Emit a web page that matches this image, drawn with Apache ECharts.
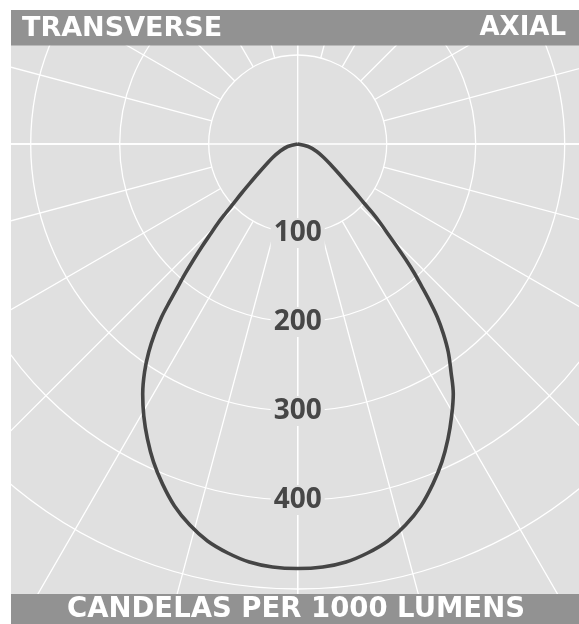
<!DOCTYPE html>
<html>
<head>
<meta charset="utf-8">
<script src="https://cdn.jsdelivr.net/npm/echarts@6/dist/echarts.min.js"></script>
<style>
  html, body { margin: 0; padding: 0; background: #fff; }
  #chart { width: 579px; height: 624px; }
</style>
</head>
<body>
<div id="chart"></div>
<script>
// angle from nadir (deg) and candela values
const transverseAngle = [0, 3.4, 6.6, 9.7, 12.8, 15.8, 18.8, 21.7, 24.4, 27.0, 29.5, 31.8, 33.9, 35.6, 37.0, 38.2, 39.1, 40.0, 41.0, 42.0, 43.0, 44.0, 45.2, 46.2, 47.3, 48.8, 50.6, 53.1, 56.7, 61.6, 67.4, 76.0, 90]
const transverseCd    = [477, 476.1, 472.8, 466.2, 457.4, 445.0, 429.6, 411.0, 392.2, 371.9, 351.2, 330.5, 308.5, 287.5, 267.2, 247.3, 228.0, 209.8, 192.0, 174.6, 158.2, 142.2, 126.7, 112.0, 97.8, 83.6, 69.8, 56.2, 43.0, 31.9, 21.9, 11.6, 0]
const axialAngle      = [0, 3.4, 6.6, 9.7, 12.8, 15.8, 18.8, 21.7, 24.4, 27.0, 29.5, 31.9, 33.9, 35.9, 37.5, 38.9, 40.0, 41.0, 42.1, 43.1, 44.0, 45.0, 46.2, 47.3, 48.3, 49.8, 51.5, 54.1, 57.8, 62.6, 68.5, 76.6, 90]
const axialCd         = [477, 476.1, 472.8, 466.2, 457.4, 445.0, 429.6, 411.0, 392.2, 371.9, 351.2, 330.8, 308.9, 288.5, 268.9, 249.7, 230.9, 213.0, 195.3, 177.7, 160.9, 144.6, 129.1, 114.3, 99.7, 85.3, 71.3, 57.5, 44.2, 32.9, 23.0, 12.1, 0]
const ringLabels = [100, 200, 300, 400]

const center = [297.7, 144]
const pxPer = 0.89   // px per candela
const rMax = 700

// left half is transverse (angle value θ), right half axial (360 - θ)
const curve = []
for (let i = transverseAngle.length - 1; i >= 0; i--) curve.push([transverseCd[i], transverseAngle[i]])
for (let i = 1; i < axialAngle.length; i++) curve.push([axialCd[i], 360 - axialAngle[i]])

const gridLine = { color: '#ffffff', width: 1.3 }
const bg = '#e0e0e0'
const bar = '#929292'

const chart = echarts.init(document.getElementById('chart'))

chart.setOption({
  animation: false,
  backgroundColor: bg,
  polar: [
    { center: center, radius: [100 * pxPer, rMax * pxPer] },
    { center: center, radius: [0, rMax * pxPer] },
    { center: center, radius: [100 * pxPer, 400 * pxPer] }
  ],
  angleAxis: [
    {
      polarIndex: 0, type: 'value', min: 0, max: 360, interval: 15,
      startAngle: 270, clockwise: true,
      axisLine: { show: false }, axisTick: { show: false }, axisLabel: { show: false },
      splitLine: { show: true, lineStyle: gridLine }
    },
    {
      polarIndex: 1, type: 'value', min: 0, max: 360, interval: 90,
      startAngle: 270, clockwise: true,
      axisLine: { show: false }, axisTick: { show: false }, axisLabel: { show: false },
      splitLine: { show: true, lineStyle: gridLine }
    },
    {
      polarIndex: 2, type: 'value', min: 0, max: 360, startAngle: 270, show: false
    }
  ],
  radiusAxis: [
    { polarIndex: 0, type: 'value', min: 100, max: rMax, show: false },
    {
      polarIndex: 1, type: 'value', min: 0, max: rMax, interval: 100,
      axisLine: { show: false }, axisTick: { show: false }, axisLabel: { show: false },
      splitLine: { show: true, lineStyle: gridLine }
    },
    {
      polarIndex: 2, type: 'value', min: ringLabels[0], max: ringLabels[ringLabels.length - 1], interval: 100,
      z: 10,
      axisLine: { show: false }, axisTick: { show: false }, splitLine: { show: false },
      axisLabel: {
        show: true, margin: 0, align: 'center', verticalAlign: 'middle',
        showMinLabel: true, showMaxLabel: true,
        fontFamily: 'Open Sans', fontWeight: 'bold', fontSize: 28, color: '#474747',
        backgroundColor: bg, padding: [1, 3]
      }
    }
  ],
  series: [
    {
      type: 'line', coordinateSystem: 'polar', polarIndex: 1,
      data: curve, smooth: 0.35, symbol: 'none', z: 3,
      lineStyle: { color: '#454545', width: 3.6 }
    }
  ],
  graphic: [
    { type: 'rect', z: 100, shape: { x: 0, y: 0, width: 579, height: 10 }, style: { fill: '#ffffff' } },
    { type: 'rect', z: 100, shape: { x: 0, y: 0, width: 11, height: 624 }, style: { fill: '#ffffff' } },
    { type: 'rect', z: 100, shape: { x: 11, y: 10, width: 568, height: 35.5 }, style: { fill: bar } },
    { type: 'rect', z: 100, shape: { x: 11, y: 594, width: 568, height: 30 }, style: { fill: bar } },
    {
      type: 'text', z: 101, x: 22, y: 28.5,
      style: { text: 'TRANSVERSE', fill: '#fff', font: 'bold 27px "DejaVu Sans"', textAlign: 'left', textVerticalAlign: 'middle' }
    },
    {
      type: 'text', z: 101, x: 566, y: 28.5,
      style: { text: 'AXIAL', fill: '#fff', font: 'bold 26px "DejaVu Sans"', textAlign: 'right', textVerticalAlign: 'middle' }
    },
    {
      type: 'text', z: 101, x: 296, y: 609.5,
      style: { text: 'CANDELAS PER 1000 LUMENS', fill: '#fff', font: 'bold 27.5px "DejaVu Sans"', textAlign: 'center', textVerticalAlign: 'middle' }
    }
  ]
})
</script>
</body>
</html>
